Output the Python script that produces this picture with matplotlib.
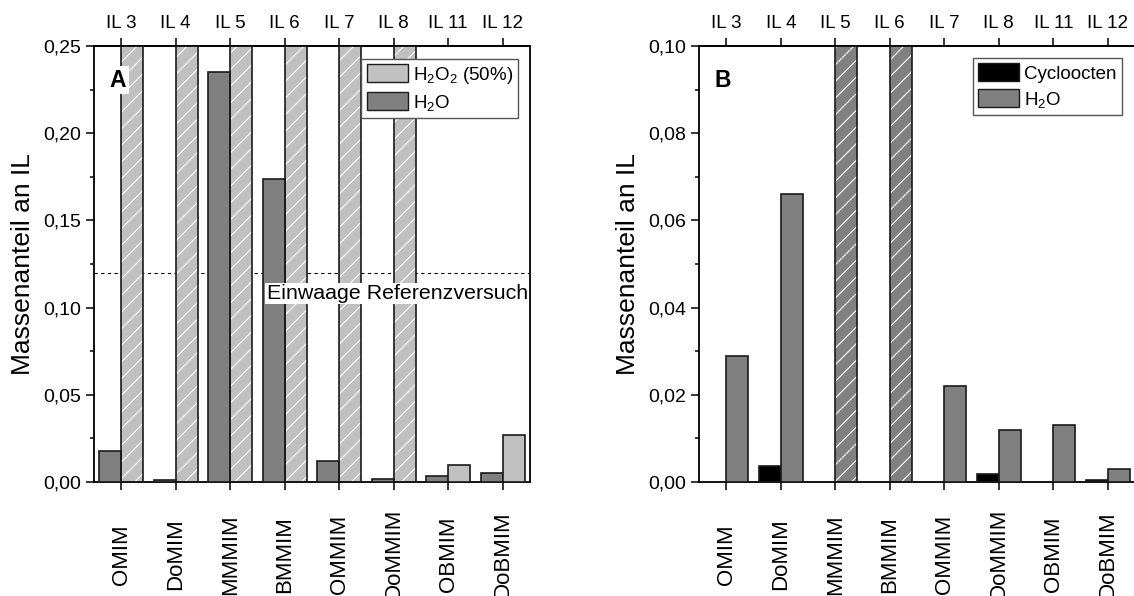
import numpy as np
import matplotlib
matplotlib.use("Agg")
import matplotlib.pyplot as plt
from matplotlib.patches import Patch
from matplotlib.ticker import MultipleLocator, FuncFormatter

plt.rcParams['font.family'] = ['Liberation Sans', 'DejaVu Sans']
plt.rcParams['mathtext.fontset'] = 'custom'
plt.rcParams['mathtext.rm'] = 'Liberation Sans'
plt.rcParams['mathtext.default'] = 'regular'
plt.rcParams['hatch.linewidth'] = 0.8

# ionic liquids
cations = ['OMIM', 'DoMIM', 'MMMIM', 'BMMIM', 'OMMIM', 'DoMMIM', 'OBMIM', 'DoBMIM']
il_names = ['IL 3', 'IL 4', 'IL 5', 'IL 6', 'IL 7', 'IL 8', 'IL 11', 'IL 12']

# A: uptake of water and H2O2 (50%)
water_a = [0.018, 0.0012, 0.235, 0.174, 0.012, 0.002, 0.0034, 0.005]
h2o2 = [0.25, 0.25, 0.25, 0.25, 0.25, 0.25, 0.010, 0.027]
h2o2_off = [True, True, True, True, True, True, False, False]
reference = 0.12

# B: uptake of cyclooctene and water
cyclo = [0.0, 0.0036, 0.0, 0.0, 0.0, 0.0019, 0.0, 0.0004]
water_b = [0.029, 0.066, 0.10, 0.10, 0.022, 0.012, 0.013, 0.003]
water_b_off = [False, False, True, True, False, False, False, False]

LIGHT = '#c0c0c0'
MID = '#808080'
W = 0.4

fig = plt.figure(figsize=(11.34, 5.96), dpi=100)
axA = fig.add_axes([94/1134, 114/596, 436/1134, 436/596])
axB = fig.add_axes([699/1134, 114/596, 436/1134, 436/596])

x = np.arange(len(cations))


def comma(v, pos):
    return ('%.2f' % v).replace('.', ',')


def bars(ax, pos, vals, color, off):
    for xi, v, o in zip(pos, vals, off):
        if o:
            ax.bar(xi, v, W, color=color, edgecolor='white', hatch='//',
                   linewidth=0, zorder=2)
            ax.bar(xi, v, W, fill=False, edgecolor='#1a1a1a', linewidth=1.2, zorder=3)
        else:
            ax.bar(xi, v, W, color=color, edgecolor='#1a1a1a', linewidth=1.2, zorder=3)


def style(ax, top, major, minor):
    ax.set_xlim(-0.5, 7.5)
    ax.set_ylim(0, top)
    ax.yaxis.set_major_locator(MultipleLocator(major))
    ax.yaxis.set_minor_locator(MultipleLocator(minor))
    ax.yaxis.set_major_formatter(FuncFormatter(comma))
    ax.tick_params(axis='y', which='major', direction='out', length=6, width=1.1,
                   labelsize=14, pad=3)
    ax.tick_params(axis='y', which='minor', direction='out', length=3, width=1.1)
    ax.set_xticks(x, cations, rotation=90, fontsize=16, va='center')
    ax.tick_params(axis='x', direction='out', length=6, width=1.1, pad=46)
    for s in ax.spines.values():
        s.set_linewidth(1.3)
    sec = ax.secondary_xaxis('top')
    sec.set_xticks(x, il_names, fontsize=13.5)
    sec.tick_params(direction='out', length=6, width=1.1, pad=4)
    sec.spines['top'].set_linewidth(1.3)
    ax.set_ylabel('Massenanteil an IL', fontsize=19, labelpad=6)


# panel A
bars(axA, x - W/2, water_a, MID, [False]*8)
bars(axA, x + W/2, h2o2, LIGHT, h2o2_off)
axA.axhline(reference, color='black', lw=0.8, linestyle=(0, (3, 3)), zorder=1)
axA.text(0.995, reference - 0.0118, 'Einwaage Referenzversuch', transform=axA.get_yaxis_transform(),
         ha='right', va='center', fontsize=15.4, zorder=5,
         bbox=dict(facecolor='white', edgecolor='none', pad=1))
axA.text(0.055, 0.922, 'A', transform=axA.transAxes, ha='center', va='center',
         fontsize=16.5, fontweight='bold', zorder=5,
         bbox=dict(facecolor='white', edgecolor='none', pad=2))
style(axA, 0.25, 0.05, 0.025)
legA = axA.legend(handles=[Patch(facecolor=LIGHT, edgecolor='#1a1a1a', label='H$_2$O$_2$ (50%)'),
                           Patch(facecolor=MID, edgecolor='#1a1a1a', label='H$_2$O')],
                  loc='upper right', bbox_to_anchor=(0.9725, 0.970), borderaxespad=0,
                  fontsize=13.5, fancybox=False, framealpha=1, edgecolor='#555555',
                  handlelength=2.2, handleheight=1.1, handletextpad=0.25,
                  labelspacing=0.35, borderpad=0.28)
legA.get_frame().set_linewidth(1.0)
legA.set_zorder(6)

# panel B
bars(axB, x - W/2, cyclo, 'black', [False]*8)
bars(axB, x + W/2, water_b, MID, water_b_off)
axB.text(0.055, 0.922, 'B', transform=axB.transAxes, ha='center', va='center',
         fontsize=16.5, fontweight='bold', zorder=5,
         bbox=dict(facecolor='white', edgecolor='none', pad=2))
style(axB, 0.10, 0.02, 0.01)
legB = axB.legend(handles=[Patch(facecolor='black', edgecolor='#1a1a1a', label='Cycloocten'),
                           Patch(facecolor=MID, edgecolor='#1a1a1a', label='H$_2$O')],
                  loc='upper right', bbox_to_anchor=(0.970, 0.972), borderaxespad=0,
                  fontsize=13.5, fancybox=False, framealpha=1, edgecolor='#555555',
                  handlelength=2.2, handleheight=1.1, handletextpad=0.25,
                  labelspacing=0.35, borderpad=0.28)
legB.get_frame().set_linewidth(1.0)
legB.set_zorder(6)

fig.savefig('out.png', dpi=100)
